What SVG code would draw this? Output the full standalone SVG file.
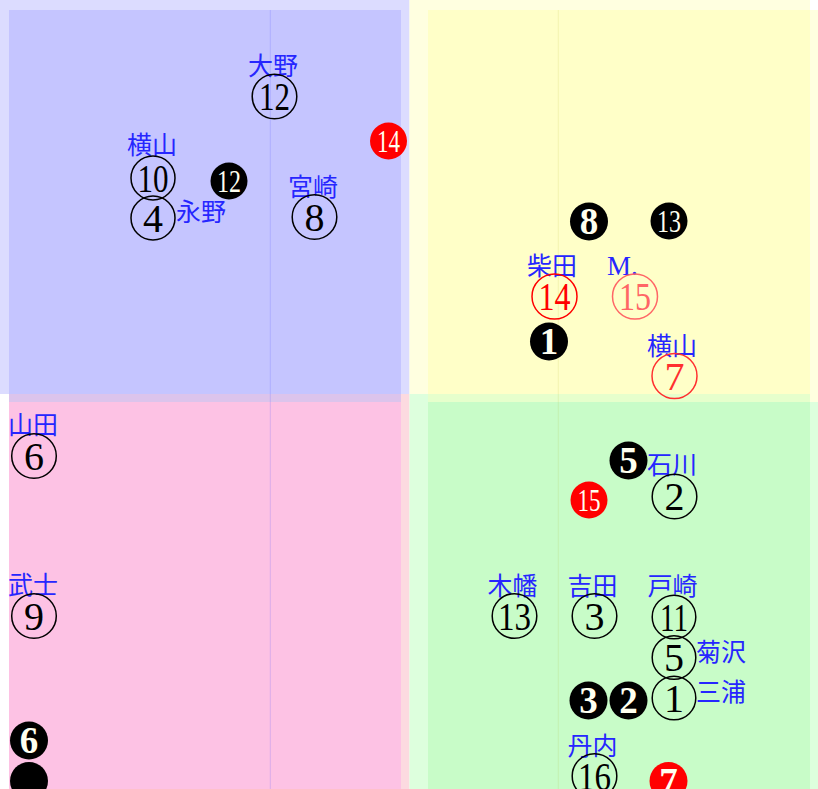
<svg xmlns="http://www.w3.org/2000/svg" width="818" height="789" viewBox="0 0 818 789">
<style>
.lab{font-family:"Noto Sans CJK JP","Noto Sans CJK SC",sans-serif;font-size:25px;fill:#2626ff}
.labm{font-family:"Liberation Serif",serif;font-size:27px;fill:#2626ff}
.mid{text-anchor:middle}
.ring{fill:none;stroke:#000;stroke-width:1.5}
.num{font-family:"Liberation Serif",serif;font-size:40px;text-anchor:middle;fill:#000}
.blk{fill:#000}
.redf{fill:#ff0000}
.inv{font-family:"Liberation Serif",serif;font-size:37px;font-weight:bold;text-anchor:middle;fill:#fffff0}
.inv2{font-family:"Liberation Serif",serif;font-size:32px;text-anchor:middle;fill:#fffff0}
</style>
<g id="background">
  <rect x="0" y="0" width="409.5" height="394" fill="#dcdcff"/>
  <rect x="9" y="10" width="392" height="384" fill="#c5c5ff"/>
  <rect x="9" y="394" width="400.5" height="395" fill="#fcdae0"/>
  <rect x="9" y="402" width="392" height="387" fill="#fdc2e4"/>
  <rect x="9" y="394" width="392" height="8" fill="#dcc4ec"/>
  <rect x="409.5" y="0" width="400.5" height="394" fill="#ffffe0"/>
  <rect x="810" y="10" width="8" height="392" fill="#ffffe0"/>
  <rect x="428" y="10" width="382" height="384" fill="#ffffc8"/>
  <rect x="409.5" y="394" width="400.5" height="395" fill="#ddffdd"/>
  <rect x="810" y="402" width="8" height="387" fill="#ddffdd"/>
  <rect x="428" y="394" width="390" height="8" fill="#e6ffcc"/>
  <rect x="810" y="394" width="8" height="8" fill="#ffffe0"/>
  <rect x="428" y="402" width="382" height="387" fill="#c8fcc8"/>
  <line x1="270.3" y1="10" x2="270.3" y2="789" stroke="#6060ff" stroke-opacity="0.22" stroke-width="1"/>
  <line x1="558.3" y1="10" x2="558.3" y2="789" stroke="#a0a000" stroke-opacity="0.12" stroke-width="1"/>
</g>
<g id="connectors"/>
<g id="h12">
  <text class="lab mid" x="273" y="75">大野</text>
  <circle class="ring" cx="274.5" cy="96.5" r="22.3"/>
  <text class="num" x="274.5" y="110" textLength="31" lengthAdjust="spacingAndGlyphs">12</text>
</g>
<g id="h10">
  <text class="lab mid" x="152" y="154">横山</text>
  <circle class="ring" cx="153" cy="178" r="22"/>
  <text class="num" x="153" y="191.5" textLength="31" lengthAdjust="spacingAndGlyphs">10</text>
</g>
<g id="h4">
  <text class="lab" x="176" y="221">永野</text>
  <circle class="ring" cx="153" cy="218" r="22"/>
  <text class="num" x="153" y="231.5">4</text>
</g>
<g id="h8">
  <text class="lab mid" x="313" y="196">宮崎</text>
  <circle class="ring" cx="314.5" cy="217" r="22.3"/>
  <text class="num" x="314.5" y="230.5">8</text>
</g>
<g id="p12">
  <circle class="blk" cx="229" cy="181" r="18.5"/>
  <text class="inv2" x="229" y="192" textLength="24" lengthAdjust="spacingAndGlyphs">12</text>
</g>
<g id="p14">
  <circle class="redf" cx="388.5" cy="141" r="18.5"/>
  <text class="inv2" x="388.5" y="152" textLength="23" lengthAdjust="spacingAndGlyphs">14</text>
</g>
<g id="h6">
  <text class="lab mid" x="33" y="434">山田</text>
  <circle class="ring" cx="34" cy="456" r="22.3"/>
  <text class="num" x="34" y="469.5">6</text>
</g>
<g id="h9">
  <text class="lab mid" x="33" y="594">武士</text>
  <circle class="ring" cx="34" cy="616" r="22.3"/>
  <text class="num" x="34" y="629.5">9</text>
</g>
<g id="p6">
  <circle class="blk" cx="29" cy="740.5" r="19"/>
  <text class="inv" x="29" y="753">6</text>
</g>
<g id="p_bottom_left">
  <circle class="blk" cx="29" cy="781" r="19"/>
</g>
<g id="p8">
  <circle class="blk" cx="589" cy="221.5" r="19"/>
  <text class="inv" x="589" y="234">8</text>
</g>
<g id="p13">
  <circle class="blk" cx="669" cy="221" r="18.5"/>
  <text class="inv2" x="669" y="232" textLength="24" lengthAdjust="spacingAndGlyphs">13</text>
</g>
<g id="h14">
  <text class="lab mid" x="552" y="275">柴田</text>
  <circle cx="554.5" cy="296.5" r="22.5" fill="none" stroke="#ff0000" stroke-width="1.5"/>
  <text class="num" x="554.5" y="310" fill="#ff0000" style="fill:#ff0000" textLength="32" lengthAdjust="spacingAndGlyphs">14</text>
</g>
<g id="h15">
  <text class="labm" x="607" y="275">M.</text>
  <circle cx="635" cy="296.5" r="22.5" fill="none" stroke="#ff6666" stroke-width="1.5"/>
  <text class="num" x="635" y="310" style="fill:#ff6666" textLength="32" lengthAdjust="spacingAndGlyphs">15</text>
</g>
<g id="p1">
  <circle class="blk" cx="549" cy="341.5" r="19"/>
  <text class="inv" x="549" y="354">1</text>
</g>
<g id="h7">
  <text class="lab mid" x="672" y="355">横山</text>
  <circle cx="674.5" cy="376" r="22.5" fill="none" stroke="#ff3030" stroke-width="1.5"/>
  <text class="num" x="674.5" y="389.5" style="fill:#ff3030">7</text>
</g>
<g id="p5">
  <circle class="blk" cx="628.5" cy="460.5" r="19"/>
  <text class="inv" x="628.5" y="473">5</text>
</g>
<g id="h2">
  <text class="lab" x="647" y="474">石川</text>
  <circle class="ring" cx="674.5" cy="496.5" r="22.3"/>
  <text class="num" x="674.5" y="510">2</text>
</g>
<g id="p15">
  <circle class="redf" cx="589" cy="500" r="18.5"/>
  <text class="inv2" x="589" y="511" textLength="23" lengthAdjust="spacingAndGlyphs">15</text>
</g>
<g id="h13">
  <text class="lab mid" x="512.5" y="595">木幡</text>
  <circle class="ring" cx="514.5" cy="616" r="22.3"/>
  <text class="num" x="514.5" y="629.5" textLength="33" lengthAdjust="spacingAndGlyphs">13</text>
</g>
<g id="h3">
  <text class="lab mid" x="592.5" y="595">吉田</text>
  <circle class="ring" cx="594.5" cy="616" r="22.3"/>
  <text class="num" x="594.5" y="629.5">3</text>
</g>
<g id="h11">
  <text class="lab mid" x="672.5" y="595">戸崎</text>
  <circle class="ring" cx="674" cy="617" r="21.8"/>
  <text class="num" x="674" y="630.5" textLength="28" lengthAdjust="spacingAndGlyphs">11</text>
</g>
<g id="h5">
  <text class="lab" x="696" y="661">菊沢</text>
  <circle class="ring" cx="674" cy="657.5" r="21.8"/>
  <text class="num" x="674" y="671">5</text>
</g>
<g id="h1">
  <text class="lab" x="696" y="701">三浦</text>
  <circle class="ring" cx="674" cy="698" r="21.8"/>
  <text class="num" x="674" y="711.5">1</text>
</g>
<g id="p3">
  <circle class="blk" cx="588.5" cy="700.5" r="19"/>
  <text class="inv" x="588.5" y="713">3</text>
</g>
<g id="p2">
  <circle class="blk" cx="628.5" cy="700.5" r="19"/>
  <text class="inv" x="628.5" y="713">2</text>
</g>
<g id="h16">
  <text class="lab mid" x="592.5" y="755">丹内</text>
  <circle class="ring" cx="594.5" cy="776" r="22.3"/>
  <text class="num" x="594.5" y="789.5" textLength="33" lengthAdjust="spacingAndGlyphs">16</text>
</g>
<g id="p7">
  <circle class="redf" cx="668.5" cy="781" r="19"/>
  <text class="inv" x="668.5" y="793.5">7</text>
</g>
</svg>
